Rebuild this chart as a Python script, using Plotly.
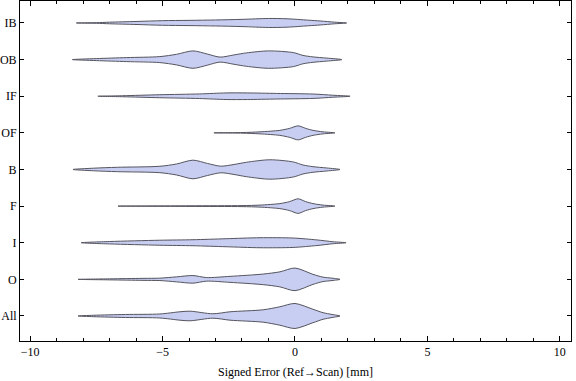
import plotly.graph_objects as go

# Categories, bottom to top
categories = ["All", "O", "I", "F", "B", "OF", "IF", "OB", "IB"]

# Violin outlines: error values (mm) and half-widths (relative density)
x_All = [-8.19, -7.6, -6.4, -5.1, -4.34, -3.96, -3.1, -2.45, -1.2, -0.57, 0.0, 0.68, 1.06, 1.4, 1.7]
h_All = [0, 0.7, 1.5, 2.0, 4.2, 4.8, 2.2, 4.2, 6.2, 9.2, 12.5, 6.7, 3.3, 1.5, 0]

x_O = [-8.19, -7.0, -5.74, -5.1, -4.47, -3.85, -3.34, -2.45, -1.2, -0.57, 0.0, 0.68, 1.06, 1.4, 1.7]
h_O = [0, 0.5, 1.0, 1.2, 2.5, 3.8, 1.8, 3.0, 5.3, 7.5, 11.3, 5.0, 2.2, 1.2, 0]

x_I = [-8.07, -7.0, -5.1, -3.85, -2.6, -1.32, -0.07, 0.83, 1.43, 1.93]
h_I = [0, 1.2, 2.5, 3.0, 4.0, 5.0, 4.7, 2.8, 1.0, 0]

x_F = [-6.68, -4.0, -2.0, -1.32, -0.57, -0.2, 0.12, 0.4, 0.68, 1.06, 1.51]
h_F = [0, 0.3, 0.5, 1.0, 2.5, 4.5, 7.3, 4.5, 2.5, 1.0, 0]

x_B = [-8.38, -7.6, -6.7, -5.1, -4.47, -3.85, -3.3, -2.8, -2.3, -1.83, -0.95, -0.06, 0.3, 0.68, 1.2, 1.7]
h_B = [0, 1.3, 2.2, 3.2, 5.5, 9.3, 6.0, 3.3, 5.0, 7.2, 9.7, 7.5, 4.5, 2.8, 1.5, 0]

x_OF = [-3.06, -2.0, -1.32, -0.57, -0.2, 0.12, 0.4, 0.68, 1.06, 1.51]
h_OF = [0, 0.3, 1.0, 2.5, 4.5, 7.0, 4.5, 2.5, 1.0, 0]

x_IF = [-7.44, -6.5, -5.1, -3.6, -2.6, -1.8, -0.7, 0.68, 1.43, 2.08]
h_IF = [0, 0.5, 1.5, 2.3, 3.3, 3.3, 2.8, 2.2, 1.0, 0]

x_OB = [-8.4, -7.5, -6.35, -5.1, -4.47, -3.85, -3.3, -2.83, -2.3, -1.83, -1.0, -0.06, 0.3, 0.68, 1.2, 1.77]
h_OB = [0, 1.0, 2.0, 3.0, 5.3, 8.7, 5.5, 2.5, 4.7, 6.7, 8.7, 7.0, 4.2, 2.7, 1.5, 0]

x_IB = [-8.25, -7.5, -7.0, -6.0, -5.0, -4.0, -3.0, -2.0, -1.0, -0.3, 0.5, 0.95, 1.5, 1.95]
h_IB = [0, 0.3, 0.8, 1.5, 2.3, 2.6, 3.0, 3.6, 4.5, 4.2, 2.8, 2.0, 0.8, 0]

series = {
    "All": (x_All, h_All), "O": (x_O, h_O), "I": (x_I, h_I), "F": (x_F, h_F),
    "B": (x_B, h_B), "OF": (x_OF, h_OF), "IF": (x_IF, h_IF), "OB": (x_OB, h_OB),
    "IB": (x_IB, h_IB),
}

x_tickvals = [-10, -5, 0, 5, 10]

SCALE = 1 / 36.6  # relative density -> category units
FILL = "rgb(200,205,242)"
EDGE = "rgb(85,85,95)"

fig = go.Figure()
for i, cat in enumerate(categories):
    xs, hs = series[cat]
    c = i + 1
    px_ = list(xs) + list(reversed(xs[1:-1])) + [xs[0]]
    py_ = [c + h * SCALE for h in hs] + [c - h * SCALE for h in reversed(hs[1:-1])] + [c]
    fig.add_trace(go.Scatter(
        x=px_, y=py_, mode="lines", fill="toself", fillcolor=FILL,
        line=dict(color=EDGE, width=1, shape="spline", smoothing=0.8),
        showlegend=False, hoverinfo="skip",
    ))

font = dict(family="Liberation Serif, Times New Roman, serif", size=12, color="black")

fig.update_layout(
    width=576, height=381,
    margin=dict(l=20, r=5, t=1, b=40, autoexpand=False),
    paper_bgcolor="white", plot_bgcolor="white",
    font=font,
    xaxis=dict(
        range=[-10.38, 10.42], tickvals=x_tickvals,
        ticks="inside", ticklen=5, tickwidth=1, tickcolor="black",
        showline=True, linecolor="black", linewidth=1, mirror="allticks",
        showgrid=False, zeroline=False, automargin=False,
        minor=dict(ticks="inside", dtick=1, ticklen=3, tickcolor="black", showgrid=False),
        title=dict(text="Signed Error (Ref\u2192Scan) [mm]", font=font, standoff=9),
        tickfont=font, ticklabelstandoff=0,
    ),
    yaxis=dict(
        range=[0.317, 9.6], tickvals=list(range(1, len(categories) + 1)), ticktext=categories,
        ticks="inside", ticklen=4, tickwidth=1, tickcolor="black",
        showline=True, linecolor="black", linewidth=1, mirror="allticks",
        showgrid=False, zeroline=False, tickfont=font, automargin=False,
    ),
)

fig.write_html("out.html", config={"displayModeBar": False},
               post_script="document.body.style.margin='0px';")
